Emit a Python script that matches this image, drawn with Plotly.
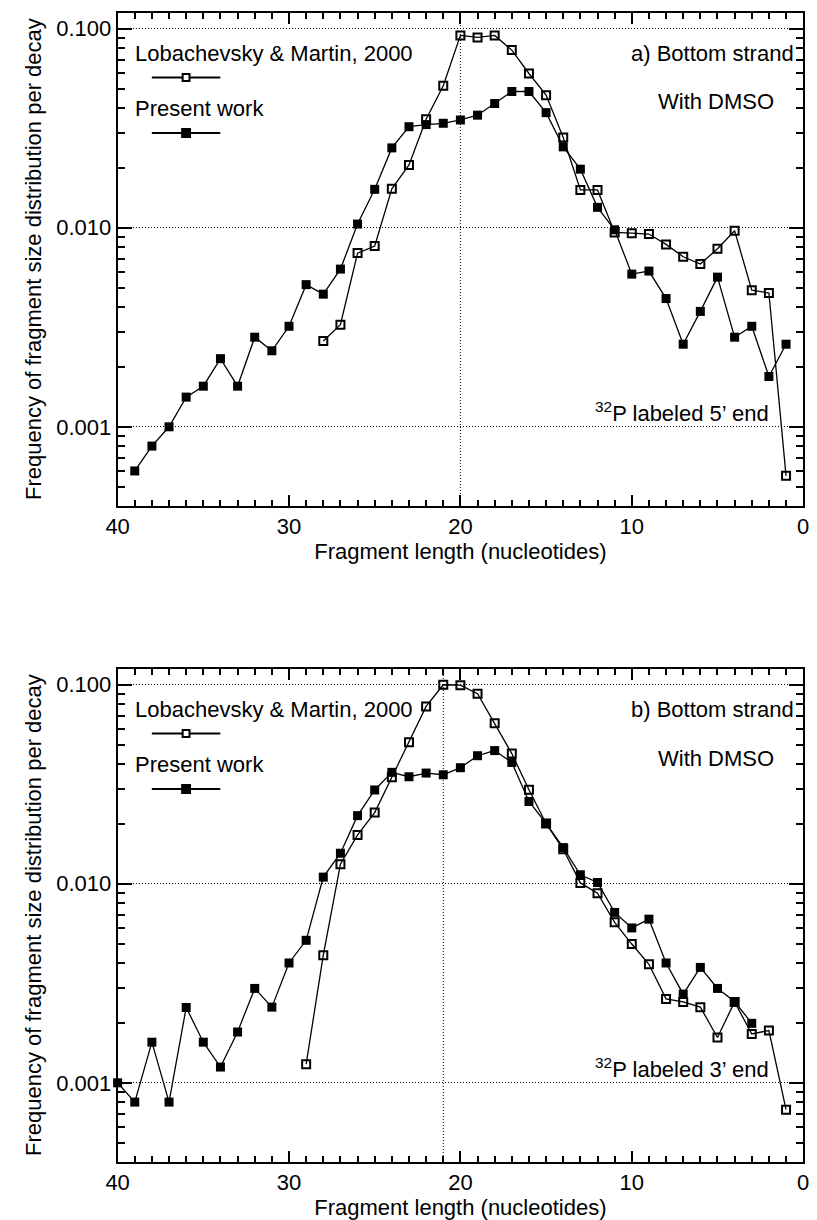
import math
import plotly.graph_objects as go

# ---- fragment length (nucleotides) ----
len_a_present = list(range(39, 0, -1))
freq_a_present = [0.00060, 0.00080, 0.00100, 0.00141, 0.00160, 0.00220, 0.00160,
                  0.00282, 0.00241, 0.00320, 0.00518, 0.00464, 0.00620, 0.01044,
                  0.01560, 0.02520, 0.03220, 0.03300, 0.03350, 0.03480, 0.03680,
                  0.04210, 0.04840, 0.04840, 0.03790, 0.02550, 0.01970, 0.01267,
                  0.00977, 0.00585, 0.00606, 0.00441, 0.00260, 0.00380, 0.00565,
                  0.00282, 0.00320, 0.00179, 0.00260]

len_a_lob = list(range(28, 0, -1))
freq_a_lob = [0.00270, 0.00326, 0.00746, 0.00810, 0.01570, 0.02070, 0.03510,
              0.05170, 0.09260, 0.09050, 0.09260, 0.07810, 0.05960, 0.04640,
              0.02840, 0.01550, 0.01550, 0.00948, 0.00940, 0.00930, 0.00825,
              0.00715, 0.00657, 0.00784, 0.00966, 0.00486, 0.00470, 0.000567]

len_b_present = list(range(40, 2, -1))
freq_b_present = [0.00100, 0.00080, 0.00160, 0.00080, 0.00239, 0.00160, 0.00120,
                  0.00180, 0.00298, 0.00240, 0.00400, 0.00520, 0.01080, 0.01424,
                  0.02200, 0.02960, 0.03630, 0.03450, 0.03600, 0.03530, 0.03830,
                  0.04400, 0.04670, 0.04070, 0.02590, 0.02010, 0.01520, 0.01110,
                  0.01015, 0.00718, 0.00600, 0.00664, 0.00400, 0.00279, 0.00380,
                  0.00298, 0.00256, 0.00199]

len_b_lob = list(range(29, 0, -1))
freq_b_lob = [0.00124, 0.00438, 0.01254, 0.01760, 0.02280, 0.03430, 0.05140,
              0.07780, 0.10000, 0.09950, 0.09010, 0.06400, 0.04510, 0.02970,
              0.02010, 0.01490, 0.01010, 0.00897, 0.00640, 0.00498, 0.00394,
              0.00264, 0.00255, 0.00240, 0.00169, 0.00255, 0.00176, 0.00183,
              0.000733]

x_ticks = [40, 30, 20, 10, 0]
y_ticks = [0.001, 0.01, 0.1]
y_ticktext = ["0.001", "0.010", "0.100"]
y_minor = [m * 10.0 ** e for e in (-4, -3, -2) for m in range(2, 10)]
y_minor = [v for v in y_minor if 0.0004 <= v <= 0.12 and v not in y_ticks]

legend_names = ["Lobachevsky & Martin, 2000", "Present work"]

W, H = 817, 1220
FONT = "Arial, Liberation Sans, sans-serif"
FS = 22
DOT = "1px,2px"


def px(xp):
    return xp / W


def py(yp):
    return 1 - yp / H


fig = go.Figure()

panels = [
    dict(xa="x", ya="y", present=(len_a_present, freq_a_present),
         lob=(len_a_lob, freq_a_lob), vline=20,
         top=13, bottom=506, label="a) Bottom strand",
         end="<sup>32</sup>P labeled 5\u2019 end"),
    dict(xa="x2", ya="y2", present=(len_b_present, freq_b_present),
         lob=(len_b_lob, freq_b_lob), vline=21,
         top=669, bottom=1162, label="b) Bottom strand",
         end="<sup>32</sup>P labeled 3\u2019 end"),
]

for p in panels:
    fig.add_trace(go.Scatter(
        x=p["lob"][0], y=p["lob"][1], xaxis=p["xa"], yaxis=p["ya"],
        mode="lines+markers", name=legend_names[0], showlegend=False,
        line=dict(color="black", width=1.3),
        marker=dict(symbol="square-open", size=8, color="black",
                    line=dict(width=2, color="black")),
        cliponaxis=False))
    fig.add_trace(go.Scatter(
        x=p["present"][0], y=p["present"][1], xaxis=p["xa"], yaxis=p["ya"],
        mode="lines+markers", name=legend_names[1], showlegend=False,
        line=dict(color="black", width=1.3),
        marker=dict(symbol="square", size=9, color="black"),
        cliponaxis=False))

xdom = [px(108), px(809)]
common_x = dict(
    range=[40, 0], domain=xdom, tickvals=x_ticks,
    ticks="inside", ticklen=11, tickwidth=2, tickcolor="black",
    showline=True, linewidth=2, linecolor="black", mirror="allticks",
    showgrid=False, zeroline=False,
    tickfont=dict(family=FONT, size=FS, color="black"),
    minor=dict(dtick=1, tick0=0, ticks="inside", ticklen=6, tickwidth=2,
               tickcolor="black", showgrid=False),
    title=dict(text="Fragment length (nucleotides)",
               font=dict(family=FONT, size=FS, color="black"), standoff=4),
)
common_y = dict(
    type="log", range=[math.log10(0.0004), math.log10(0.12)],
    tickvals=y_ticks, ticktext=y_ticktext,
    ticks="inside", ticklen=14, tickwidth=2, tickcolor="black",
    showline=True, linewidth=2, linecolor="black", mirror="allticks",
    showgrid=True, gridcolor="black", gridwidth=1, griddash=DOT,
    zeroline=False,
    tickfont=dict(family=FONT, size=FS, color="black"),
    minor=dict(tickvals=y_minor, ticks="inside", ticklen=7, tickwidth=2,
               tickcolor="black", showgrid=False),
)

fig.update_layout(
    width=W, height=H,
    margin=dict(l=0, r=0, t=0, b=0),
    paper_bgcolor="white", plot_bgcolor="white",
    font=dict(family=FONT, size=FS, color="black"),
    xaxis=dict(common_x, anchor="y"),
    xaxis2=dict(common_x, anchor="y2"),
    yaxis=dict(common_y, anchor="x",
               domain=[py(panels[0]["bottom"]), py(panels[0]["top"])]),
    yaxis2=dict(common_y, anchor="x2",
                domain=[py(panels[1]["bottom"]), py(panels[1]["top"])]),
    showlegend=False,
)

shapes = []
annotations = []
for p in panels:
    t = p["top"]
    # vertical dotted reference line
    shapes.append(dict(type="line", xref=p["xa"], yref=p["ya"] + " domain",
                       x0=p["vline"], x1=p["vline"], y0=0, y1=1,
                       line=dict(color="black", width=1, dash=DOT)))
    # legend keys: text above a line with its marker
    for i, (name, sym_fill) in enumerate(zip(legend_names, [False, True])):
        ty = t + 40 + i * 55
        ly = t + 64.5 + i * 55.5
        annotations.append(dict(text=name, xref="paper", yref="paper",
                                x=px(124), y=py(ty), xanchor="left",
                                yanchor="middle", showarrow=False,
                                font=dict(family=FONT, size=FS, color="black")))
        shapes.append(dict(type="line", xref="paper", yref="paper",
                           x0=px(143), x1=px(213), y0=py(ly), y1=py(ly),
                           line=dict(color="black", width=2)))
        s = 4 if sym_fill else 3.5
        shapes.append(dict(type="rect", xref="paper", yref="paper",
                           x0=px(178 - s), x1=px(178 + s),
                           y0=py(ly + s), y1=py(ly - s),
                           fillcolor="black" if sym_fill else "white",
                           line=dict(color="black", width=2)))
    annotations.append(dict(text=p["label"], xref="paper", yref="paper",
                            x=px(716), y=py(t + 40), xanchor="center",
                            yanchor="middle", showarrow=False))
    annotations.append(dict(text="With DMSO", xref="paper", yref="paper",
                            x=px(720), y=py(t + 89), xanchor="center",
                            yanchor="middle", showarrow=False))
    annotations.append(dict(text=p["end"], xref="paper", yref="paper",
                            x=px(685), y=py(t + 399), xanchor="center",
                            yanchor="middle", showarrow=False))
    annotations.append(dict(text="Frequency of fragment size distribution per decay",
                            xref="paper", yref="paper", textangle=-90,
                            x=px(22), y=py((p["top"] + p["bottom"]) / 2),
                            xanchor="center", yanchor="middle", showarrow=False))

fig.update_layout(shapes=shapes, annotations=annotations)
fig.write_html("out.html")
